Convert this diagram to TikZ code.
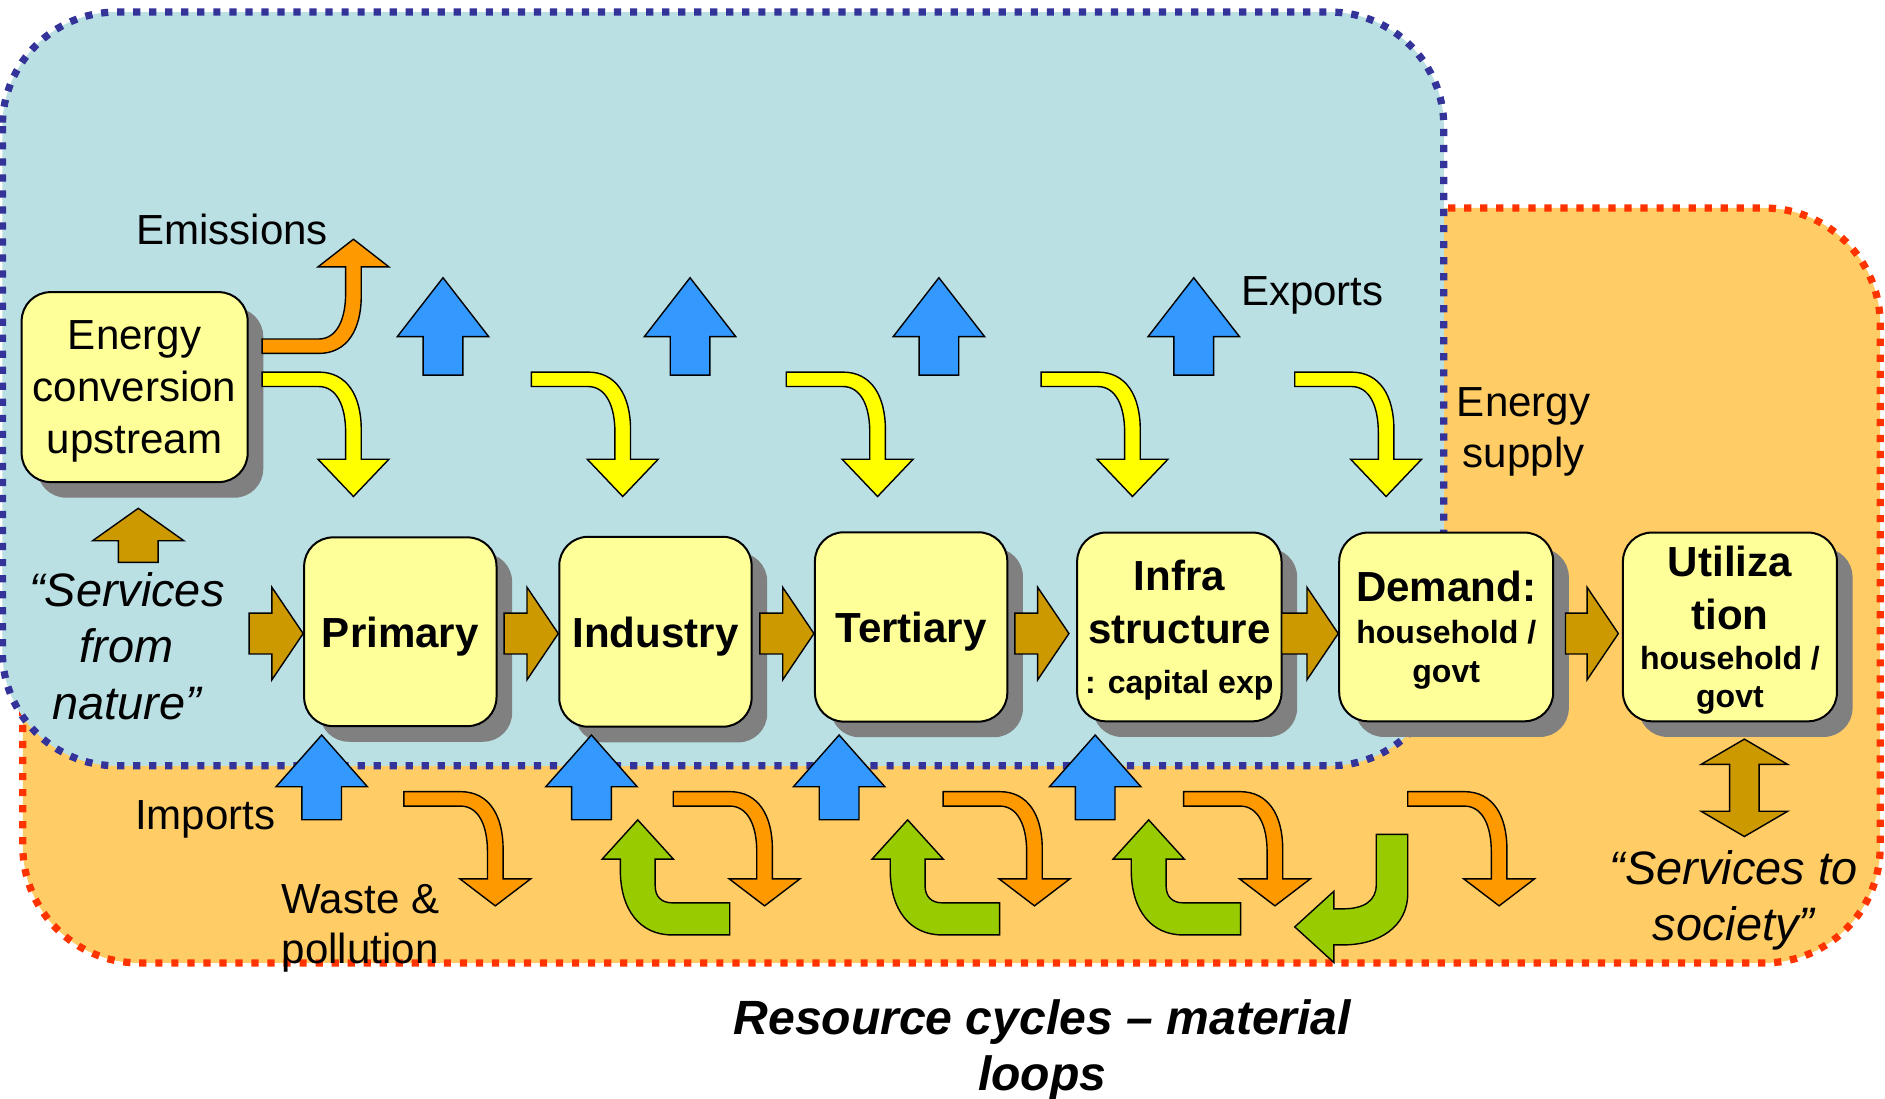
\documentclass[tikz,border=0pt]{standalone}
\usepackage{fontspec}
\setmainfont{Liberation Sans}
\usetikzlibrary{shadows}
\usetikzlibrary{positioning}
\usetikzlibrary{calc}
\definecolor{skyregion}{RGB}{186,224,228}
\definecolor{sandregion}{RGB}{255,204,102}
\definecolor{navydot}{RGB}{51,51,153}
\definecolor{reddot}{RGB}{255,51,0}
\definecolor{boxyellow}{RGB}{255,255,153}
\definecolor{brownarrow}{RGB}{204,153,0}
\definecolor{bluearrow}{RGB}{51,153,255}
\definecolor{yellowarrow}{RGB}{255,255,0}
\definecolor{orangearrow}{RGB}{255,153,0}
\definecolor{greenarrow}{RGB}{153,204,0}

\begin{document}
\begin{tikzpicture}
  [x=0.6pt,y=-0.6pt,
  skyzone/.style={fill=skyregion,draw=navydot,line width=3.6pt,dash pattern=on 3.6pt off 4.4pt,rounded corners=57pt},
  sandzone/.style={fill=sandregion,draw=reddot,line width=3.6pt,dash pattern=on 3.6pt off 4.4pt,rounded corners=58pt},
  box/.style={draw=black,line width=1pt,fill=boxyellow,rounded corners=14.4pt,align=center,inner sep=0pt,text depth=0pt,
    drop shadow={shadow xshift=7.8pt,shadow yshift=-7.8pt,fill=black!50,opacity=1}},
  thinbox/.style={box,font=\fontsize{21}{25.8}\selectfont},
  boldbox/.style={box,font=\bfseries\fontsize{21}{26.3}\selectfont},
  plain/.style={inner sep=0pt,align=center,font=\fontsize{21}{25.6}\selectfont},
  quote/.style={inner sep=0pt,align=center,font=\itshape\fontsize{23.4}{28}\selectfont},
  pics/upblock/.style n args={3}{code={
    \filldraw[fill=#1,line width=0.7pt] (0,0) -- (38,#2) -- (16.5,#2) -- (16.5,#3) -- (-16.5,#3) -- (-16.5,#2) -- (-38,#2) -- cycle;}},
  pics/bentdown/.style n args={3}{code={
    \filldraw[fill=#1,line width=0.7pt] (0,0) -- (47,0) .. controls (71,0) and (82.5,20) .. (82.5,48) -- (82.5,#2) -- (105.5,#2) -- (76,#3) -- (46.5,#2) -- (69.5,#2) -- (69.5,50) .. controls (69.5,28) and (62,12) .. (47,12) -- (0,12) -- cycle;}},
  pics/rightblock/.style={code={
    \filldraw[fill=brownarrow,line width=0.7pt] (0,0) -- (-26,-38.5) -- (-26,-17) -- (-#1,-17) -- (-#1,17) -- (-26,17) -- (-26,38.5) -- cycle;}},
  pics/twoway/.style={code={
    \filldraw[fill=brownarrow,line width=0.7pt] (0,0) -- (36,21) -- (12.25,21) -- (12.25,60) -- (36,60) -- (0,81) -- (-36,60) -- (-12.25,60) -- (-12.25,21) -- (-36,21) -- cycle;}},
  pics/greenhook/.style={code={
    \filldraw[fill=greenarrow,line width=0.7pt] (0,0) -- (29.6,32.6) -- (14.5,32.6) -- (14.5,55) .. controls (14.5,64) and (20,69) .. (28.6,69) -- (76.5,69) -- (76.5,95.7) -- (28.6,95.7) .. controls (2,95.7) and (-14.5,75) .. (-14.5,41.6) -- (-14.5,32.6) -- (-29.6,32.6) -- cycle;}},
  pics/greenleft/.style={code={
    \filldraw[fill=greenarrow,line width=0.7pt] (0,0) -- (32.5,-29.6) -- (32.5,-15) -- (40,-15) .. controls (58,-15) and (67.8,-22) .. (67.8,-35) -- (67.8,-77) -- (94,-77) -- (94,-28) .. controls (94,0) and (70,15) .. (40,15) -- (32.5,15) -- (32.5,29.6) -- cycle;}}]
  \useasboundingbox (0,0) rectangle (1568,914);

  \draw[sandzone] (19,173) rectangle (1564,801);
  \draw[skyzone] (2,10) rectangle (1201,637);

  \node[thinbox,minimum width=112.8pt,minimum height=94.8pt] (energy) at (112,322) {Energy\\conversion\\upstream};
  \node[boldbox,minimum width=96pt,minimum height=94.2pt] (primary) at (333,525.5) {Primary};
  \node[boldbox,minimum width=96pt,minimum height=94.8pt] (industry) at (545.2,525.5) {Industry};
  \node[boldbox,minimum width=96pt,minimum height=94.5pt] (tertiary) at (757.9,521.5) {Tertiary};
  \node[boldbox,minimum width=102pt,minimum height=94.2pt] (infra) at (981,521.5) {Infra\\structure\\[-1pt]{\fontsize{16}{19}\selectfont : capital exp}};
  \node[boldbox,minimum width=106.8pt,minimum height=94.2pt] (demand) at (1203,521.5) {Demand:\\[-5.7pt]{\fontsize{16}{19}\selectfont household /}\\[-6.7pt]{\fontsize{16}{19}\selectfont govt}};
  \node[boldbox,minimum width=106.8pt,minimum height=94.2pt] (utiliza) at (1439,521.5) {Utiliza\\tion\\[-6pt]{\fontsize{16}{19}\selectfont household /}\\[-7.4pt]{\fontsize{16}{19}\selectfont govt}};

  \coordinate (rowaxis) at (0,527);
  \pic at (primary.west |- rowaxis) {rightblock=45};
  \pic at (industry.west |- rowaxis) {rightblock=45};
  \pic at (tertiary.west |- rowaxis) {rightblock=45};
  \pic[xshift=-3.6pt] at (infra.west |- rowaxis) {rightblock=45};
  \pic at (demand.west |- rowaxis) {rightblock=47};
  \pic[xshift=-1.8pt] at (utiliza.west |- rowaxis) {rightblock=44};
  \pic at ($(energy.south)+(3,21)$) {upblock={brownarrow}{27}{45}};
  \pic at ($(utiliza.south)+(12,14)$) {twoway};

  \pic[yscale=-1] at (218,294) {bentdown={orangearrow}{72}{95}};
  \pic at (218,309.5) {bentdown={yellowarrow}{72.5}{103.5}};
  \pic at (442,309.5) {bentdown={yellowarrow}{72.5}{103.5}};
  \pic at (654,309.5) {bentdown={yellowarrow}{72.5}{103.5}};
  \pic at (866,309.5) {bentdown={yellowarrow}{72.5}{103.5}};
  \pic at (1077,309.5) {bentdown={yellowarrow}{72.5}{103.5}};

  \pic at (368.5,231) {upblock={bluearrow}{49}{81}};
  \pic at (574,231) {upblock={bluearrow}{49}{81}};
  \pic at (781,231) {upblock={bluearrow}{49}{81}};
  \pic at (993,231) {upblock={bluearrow}{49}{81}};
  \pic at (267.6,611.4) {upblock={bluearrow}{43}{70.5}};
  \pic at (492,611.4) {upblock={bluearrow}{43}{70.5}};
  \pic at (698,611.4) {upblock={bluearrow}{43}{70.5}};
  \pic at (911,611.4) {upblock={bluearrow}{43}{70.5}};

  \pic at (336,658.5) {bentdown={orangearrow}{72.5}{95}};
  \pic at (560,658.5) {bentdown={orangearrow}{72.5}{95}};
  \pic at (784.5,658.5) {bentdown={orangearrow}{72.5}{95}};
  \pic at (984.5,658.5) {bentdown={orangearrow}{72.5}{95}};
  \pic at (1171,658.5) {bentdown={orangearrow}{72.5}{95}};

  \pic at (530.5,682) {greenhook};
  \pic at (755,682) {greenhook};
  \pic at (955.5,682) {greenhook};
  \pic at (1077,771) {greenleft};

  \node[plain,anchor=base west] (emissions) at (113,203) {Emissions};
  \node[plain,anchor=base west] (exports) at (1032,254.3) {Exports};
  \node[plain] (supply) at (1267.4,359.4) {Energy\\supply};
  \node[plain,anchor=base west] (imports) at (112,690.4) {Imports};
  \node[plain,align=left,anchor=west,font=\fontsize{21}{24.8}\selectfont] (waste) at (234,772.4) {Waste \&\\pollution};
  \node[quote] (nature) at (105.5,537.5) {“Services\\from\\nature”};
  \node[quote] (society) at (1442,749) {“Services to\\society”};
  \node[inner sep=0pt,align=center,font=\bfseries\itshape\fontsize{24}{28}\selectfont] (cycles) at (867,873.3) {Resource cycles – material\\loops};
\end{tikzpicture}
\end{document}
